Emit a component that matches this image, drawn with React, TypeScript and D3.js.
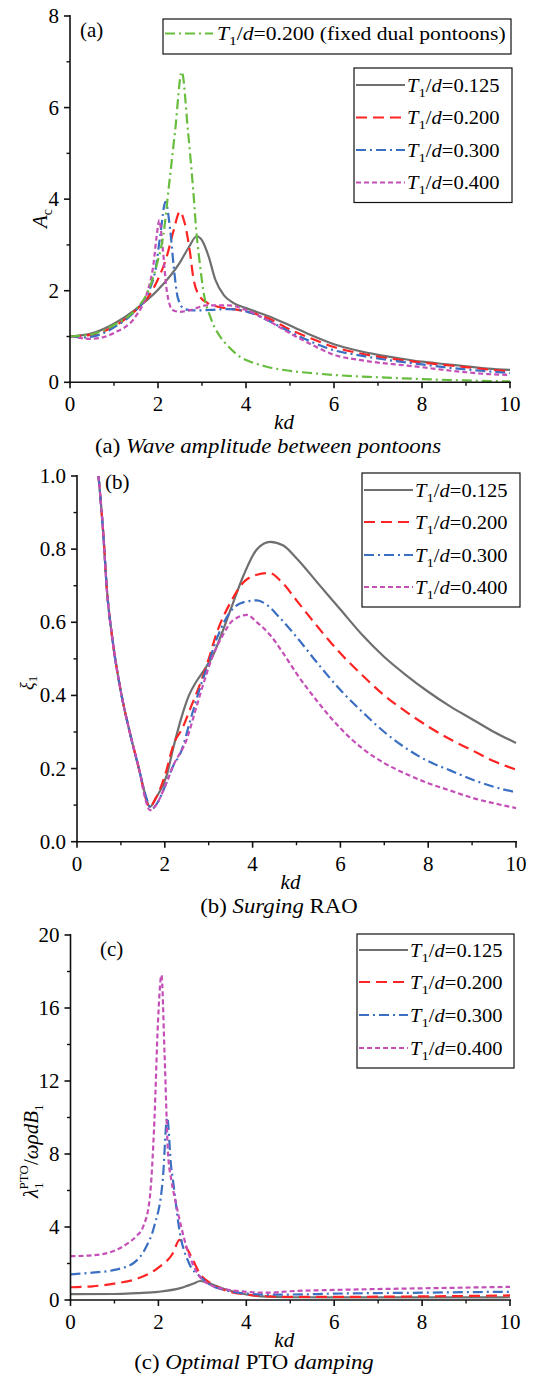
import React from "react";
import * as d3 from "d3";

type P = [number, number];

// ---------- Panel (a): wave amplitude A_c vs kd ----------
const aT125: P[] = [[0,1.0],[0.5,1.07],[1,1.28],[1.5,1.6],[2,2.02],[2.5,2.62],[2.7,2.95],[2.88,3.19],[3.0,3.1],[3.15,2.75],[3.3,2.25],[3.5,1.9],[3.7,1.74],[4.0,1.62],[4.5,1.45],[5,1.24],[5.5,1.02],[6,0.83],[6.5,0.7],[7,0.6],[7.5,0.52],[8,0.45],[8.5,0.4],[9,0.35],[9.5,0.3],[10,0.27]];
const aT200: P[] = [[0,1.0],[0.5,1.04],[1,1.22],[1.5,1.58],[1.8,1.9],[2.0,2.25],[2.2,2.75],[2.35,3.3],[2.5,3.73],[2.6,3.5],[2.73,2.82],[2.8,2.3],[2.95,1.87],[3.13,1.73],[3.4,1.64],[3.7,1.6],[4.0,1.55],[4.5,1.4],[5,1.15],[5.5,0.95],[6,0.77],[6.5,0.65],[7,0.56],[7.5,0.49],[8,0.43],[8.5,0.38],[9,0.33],[9.5,0.28],[10,0.24]];
const aT300: P[] = [[0,1.0],[0.3,0.98],[0.7,1.05],[1,1.2],[1.5,1.58],[1.8,2.0],[1.95,2.5],[2.05,3.2],[2.17,3.94],[2.28,3.3],[2.36,2.5],[2.45,1.85],[2.6,1.6],[2.8,1.57],[3.2,1.58],[3.6,1.6],[4.0,1.55],[4.5,1.35],[5,1.1],[5.5,0.88],[6,0.7],[6.5,0.6],[7,0.52],[7.5,0.45],[8,0.39],[8.5,0.33],[9,0.28],[9.5,0.24],[10,0.2]];
const aT400: P[] = [[0,1.0],[0.5,0.95],[1,1.08],[1.5,1.45],[1.75,1.95],[1.9,2.6],[1.97,3.2],[2.03,3.54],[2.1,3.0],[2.2,2.0],[2.33,1.58],[2.5,1.54],[2.75,1.58],[3.1,1.68],[3.6,1.68],[4.0,1.58],[4.5,1.35],[5,1.07],[5.5,0.82],[6,0.6],[6.5,0.5],[7,0.43],[7.5,0.38],[8,0.33],[8.5,0.27],[9,0.22],[9.5,0.18],[10,0.16]];
const aFixed: P[] = [[0,1.0],[0.5,1.05],[1,1.25],[1.5,1.6],[1.78,2.0],[2.0,2.67],[2.12,3.2],[2.25,4.3],[2.39,5.5],[2.54,6.78],[2.68,5.5],[2.8,4.2],[2.88,3.2],[2.95,2.6],[3.03,2.0],[3.2,1.4],[3.41,1.0],[3.6,0.78],[3.86,0.56],[4.1,0.45],[4.47,0.34],[5,0.25],[5.5,0.2],[6,0.16],[7,0.11],[8,0.07],[9,0.04],[10,0.02]];

// ---------- Panel (b): surging RAO xi_1 vs kd ----------
const bT125: P[] = [[0.49,1.0],[0.6,0.84],[0.68,0.69],[0.8,0.56],[1.0,0.41],[1.2,0.3],[1.43,0.19],[1.55,0.13],[1.66,0.095],[1.8,0.12],[2.04,0.18],[2.2,0.26],[2.38,0.34],[2.55,0.4],[2.73,0.44],[2.9,0.47],[3.1,0.51],[3.3,0.57],[3.5,0.635],[3.8,0.73],[4.1,0.8],[4.4,0.82],[4.7,0.81],[5.0,0.775],[5.5,0.705],[6.0,0.635],[6.5,0.565],[7.0,0.505],[7.5,0.455],[8.0,0.41],[8.5,0.37],[9.0,0.335],[9.5,0.3],[10,0.27]];
const bT200: P[] = [[0.49,1.0],[0.6,0.84],[0.68,0.69],[0.8,0.56],[1.0,0.41],[1.2,0.3],[1.43,0.19],[1.55,0.125],[1.65,0.095],[1.8,0.12],[2.0,0.18],[2.21,0.27],[2.4,0.31],[2.6,0.37],[2.8,0.43],[3.0,0.5],[3.18,0.57],[3.5,0.655],[3.8,0.71],[4.1,0.73],[4.38,0.735],[4.7,0.705],[5.0,0.66],[5.5,0.585],[6.0,0.515],[6.5,0.455],[7.0,0.4],[7.5,0.355],[8.0,0.315],[8.5,0.28],[9.0,0.25],[9.5,0.22],[10,0.197]];
const bT300: P[] = [[0.49,1.0],[0.6,0.84],[0.68,0.69],[0.8,0.56],[1.0,0.41],[1.2,0.3],[1.43,0.19],[1.58,0.12],[1.7,0.09],[1.85,0.11],[2.0,0.15],[2.2,0.21],[2.35,0.24],[2.6,0.34],[2.8,0.42],[3.0,0.49],[3.2,0.56],[3.5,0.63],[3.8,0.655],[4.1,0.66],[4.3,0.65],[4.6,0.615],[5.0,0.56],[5.5,0.485],[6.0,0.415],[6.5,0.355],[7.0,0.3],[7.5,0.255],[8.0,0.22],[8.5,0.195],[9.0,0.17],[9.5,0.15],[10,0.135]];
const bT400: P[] = [[0.49,1.0],[0.6,0.84],[0.68,0.69],[0.8,0.56],[1.0,0.41],[1.2,0.3],[1.43,0.19],[1.55,0.12],[1.66,0.086],[1.8,0.1],[2.0,0.15],[2.2,0.21],[2.5,0.28],[2.7,0.36],[2.9,0.44],[3.1,0.51],[3.3,0.56],[3.55,0.605],[3.87,0.62],[4.1,0.6],[4.4,0.565],[4.7,0.515],[5.0,0.46],[5.5,0.38],[6.0,0.31],[6.5,0.255],[7.0,0.215],[7.5,0.185],[8.0,0.16],[8.5,0.14],[9.0,0.12],[9.5,0.105],[10,0.092]];

// ---------- Panel (c): optimal PTO damping vs kd ----------
const cT125: P[] = [[0,0.32],[1,0.33],[1.5,0.38],[2,0.45],[2.5,0.65],[2.8,0.9],[2.95,1.04],[3.1,0.95],[3.5,0.6],[4,0.3],[4.5,0.18],[5,0.15],[6,0.14],[8,0.14],[10,0.15]];
const cT200: P[] = [[0,0.7],[0.5,0.75],[1.0,0.9],[1.5,1.15],[2.03,1.83],[2.33,2.56],[2.48,3.29],[2.6,3.0],[2.75,2.37],[2.94,1.46],[3.2,0.9],[3.5,0.55],[4,0.3],[4.5,0.2],[5,0.17],[6,0.17],[7,0.18],[8,0.2],[9,0.22],[10,0.25]];
const cT300: P[] = [[0,1.4],[0.5,1.5],[1.0,1.65],[1.42,2.0],[1.72,2.9],[1.9,4.0],[2.1,6.6],[2.2,10.0],[2.29,7.3],[2.33,6.6],[2.48,3.8],[2.7,2.0],[2.94,1.3],[3.2,0.8],[3.5,0.55],[4.0,0.35],[4.5,0.3],[5.0,0.3],[6.0,0.35],[7,0.38],[8,0.4],[9,0.43],[10,0.45]];
const cT400: P[] = [[0,2.4],[0.5,2.45],[1.0,2.7],[1.3,3.1],[1.5,3.5],[1.65,4.0],[1.8,5.5],[1.91,9.9],[1.99,15.2],[2.07,17.8],[2.14,13.5],[2.22,8.0],[2.3,6.5],[2.4,5.3],[2.64,2.9],[2.94,1.28],[3.2,0.8],[3.5,0.6],[4.0,0.45],[4.5,0.4],[5,0.48],[6,0.55],[7,0.6],[8,0.64],[9,0.68],[10,0.72]];

const xTicks = [0, 2, 4, 6, 8, 10];
const xMinor = [1, 3, 5, 7, 9];
const aYTicks = [0, 2, 4, 6, 8];
const aYMinor = [1, 3, 5, 7];
const bYTicks = [0, 0.2, 0.4, 0.6, 0.8, 1.0];
const bYMinor = [0.1, 0.3, 0.5, 0.7, 0.9];
const cYTicks = [0, 4, 8, 12, 16, 20];
const cYMinor = [2, 6, 10, 14, 18];
const ratioLabels = ["0.125", "0.200", "0.300", "0.400"];

const FONT = "'Liberation Serif', 'Times New Roman', serif";

type Sty = { color: string; dash: string };
const styles: Sty[] = [
  { color: "#6f6f6f", dash: "" },
  { color: "#ff2424", dash: "11,6" },
  { color: "#3b6fc2", dash: "10,4,2,4" },
  { color: "#c44fb6", dash: "5,3" },
];
const fixedStyle: Sty = { color: "#67bd3d", dash: "10,4,2,4" };

function Ratio({ value, extra }: { value: string; extra?: string }) {
  return (
    <>
      <tspan fontStyle="italic">T</tspan>
      <tspan fontSize="13" dy="5">1</tspan>
      <tspan dy="-5">/</tspan>
      <tspan fontStyle="italic">d</tspan>
      <tspan>={value}{extra ?? ""}</tspan>
    </>
  );
}

const LEG_SX = 1.14;
const FIX_SX = 1.2;
const CAP_SX = 1.14;

type PanelProps = {
  x0: number; x1: number; yTop: number; yBot: number;
  yMax: number; yTicks: number[]; yMinor: number[]; fmt: (v: number) => string;
  series: { data: P[]; sty: Sty }[];
  legend: { x0: number; x1: number; y0: number; rows: number[] };
  tag: string; tagX: number; tagY: number;
  caption: React.ReactNode; capX: number; capY: number;
};

function Panel(p: PanelProps) {
  const x = d3.scaleLinear().domain([0, 10]).range([p.x0, p.x1]);
  const y = d3.scaleLinear().domain([0, p.yMax]).range([p.yBot, p.yTop]);
  const line = d3.line<P>().x((d) => x(d[0])).y((d) => y(d[1])).curve(d3.curveMonotoneX);
  const lx = p.legend;
  const ly1 = lx.rows[lx.rows.length - 1] + 20;
  return (
    <g>
      {p.series.map((s, i) => (
        <path key={i} d={line(s.data) ?? ""} fill="none" stroke={s.sty.color} strokeWidth={2.2}
          strokeDasharray={s.sty.dash || undefined} />
      ))}
      {/* axes */}
      <line x1={p.x0} x2={p.x0} y1={p.yTop - 1} y2={p.yBot + 1} stroke="#111" strokeWidth={1.6} />
      <line x1={p.x0 - 1} x2={p.x1 + 1} y1={p.yBot} y2={p.yBot} stroke="#111" strokeWidth={1.6} />
      {xTicks.map((t) => (
        <g key={"xt" + t}>
          <line x1={x(t)} x2={x(t)} y1={p.yBot} y2={p.yBot + 6} stroke="#111" strokeWidth={1.6} />
          <text x={x(t)} y={p.yBot + 29} textAnchor="middle" fontSize="21" fontFamily={FONT}>{t}</text>
        </g>
      ))}
      {xMinor.map((t) => (
        <line key={"xm" + t} x1={x(t)} x2={x(t)} y1={p.yBot} y2={p.yBot + 3.5} stroke="#111" strokeWidth={1.4} />
      ))}
      {p.yTicks.map((t) => (
        <g key={"yt" + t}>
          <line x1={p.x0 - 6} x2={p.x0} y1={y(t)} y2={y(t)} stroke="#111" strokeWidth={1.6} />
          <text x={p.x0 - 11} y={y(t) + 7} textAnchor="end" fontSize="21" fontFamily={FONT}>{p.fmt(t)}</text>
        </g>
      ))}
      {p.yMinor.map((t) => (
        <line key={"ym" + t} x1={p.x0 - 3.5} x2={p.x0} y1={y(t)} y2={y(t)} stroke="#111" strokeWidth={1.4} />
      ))}
      <text x={(p.x0 + p.x1) / 2 - 6} y={p.yBot + 47} textAnchor="middle" fontSize="21" fontStyle="italic" fontFamily={FONT}>kd</text>
      <text transform={`translate(${p.capX},${p.capY}) scale(${CAP_SX},1)`} textAnchor="middle" fontSize="20" fontFamily={FONT}>{p.caption}</text>
      <text x={p.tagX} y={p.tagY} fontSize="21" fontFamily={FONT}>{p.tag}</text>
      {/* legend */}
      <rect x={lx.x0} y={lx.y0} width={lx.x1 - lx.x0} height={ly1 - lx.y0} fill="white" stroke="#111" strokeWidth={1.2} />
      {lx.rows.map((ry, i) => (
        <g key={"lg" + i}>
          <line x1={lx.x0 + 2} x2={lx.x0 + 51} y1={ry} y2={ry} stroke={styles[i].color} strokeWidth={2.2}
            strokeDasharray={styles[i].dash || undefined} />
          <text transform={`translate(${lx.x0 + 53},${ry + 6.5}) scale(${LEG_SX},1)`} fontSize="18" fontFamily={FONT}><Ratio value={ratioLabels[i]} /></text>
        </g>
      ))}
    </g>
  );
}

export default function App() {
  const fmt0 = (v: number) => String(v);
  const fmt1 = (v: number) => v.toFixed(1);
  const aSeries = [aT125, aT200, aT300, aT400].map((d, i) => ({ data: d, sty: styles[i] }));
  aSeries.push({ data: aFixed, sty: fixedStyle });
  const bSeries = [bT125, bT200, bT300, bT400].map((d, i) => ({ data: d, sty: styles[i] }));
  const cSeries = [cT125, cT200, cT300, cT400].map((d, i) => ({ data: d, sty: styles[i] }));
  return (
    <svg width={552} height={1376} style={{ position: "absolute", left: 0, top: 0, background: "white" }}>
      <rect width={552} height={1376} fill="white" />
      <Panel x0={70} x1={510} yTop={16} yBot={382.3} yMax={8} yTicks={aYTicks} yMinor={aYMinor} fmt={fmt0}
        series={aSeries} legend={{ x0: 354, x1: 512, y0: 68, rows: [85, 117.5, 150, 182.5] }}
        tag="(a)" tagX={80} tagY={37}
        caption={<><tspan>(a) </tspan><tspan fontStyle="italic">Wave amplitude between pontoons</tspan></>}
        capX={268} capY={453} />
      {/* fixed pontoon legend */}
      <rect x={163} y={19} width={348} height={35} fill="white" stroke="#111" strokeWidth={1.2} />
      <line x1={165} x2={213} y1={33.5} y2={33.5} stroke={fixedStyle.color} strokeWidth={2.2} strokeDasharray={fixedStyle.dash} />
      <text transform={`translate(217,40) scale(${FIX_SX},1)`} fontSize="18" fontFamily={FONT}><Ratio value="0.200" extra=" (fixed dual pontoons)" /></text>
      {/* A_c label */}
      <text transform="translate(47,228) rotate(-90)" fontSize="21" fontFamily={FONT}>
        <tspan fontStyle="italic">A</tspan><tspan fontSize="14" dy="5">c</tspan>
      </text>

      <Panel x0={77} x1={516} yTop={476} yBot={841.7} yMax={1} yTicks={bYTicks} yMinor={bYMinor} fmt={fmt1}
        series={bSeries} legend={{ x0: 362, x1: 520, y0: 473, rows: [490, 522, 555, 587] }}
        tag="(b)" tagX={105} tagY={489}
        caption={<><tspan>(b) </tspan><tspan fontStyle="italic">Surging</tspan><tspan> RAO</tspan></>}
        capX={279} capY={913} />
      <text transform="translate(33,690) rotate(-90)" fontSize="18" fontFamily={FONT}>
        <tspan fontStyle="italic">ξ</tspan><tspan fontSize="13" dy="4">1</tspan>
      </text>

      <Panel x0={70.5} x1={510} yTop={935} yBot={1300} yMax={20} yTicks={cYTicks} yMinor={cYMinor} fmt={fmt0}
        series={cSeries} legend={{ x0: 357, x1: 514, y0: 934, rows: [950, 982, 1015, 1048] }}
        tag="(c)" tagX={100} tagY={956}
        caption={<><tspan>(c) </tspan><tspan fontStyle="italic">Optimal</tspan><tspan> PTO </tspan><tspan fontStyle="italic">damping</tspan></>}
        capX={254} capY={1369} />
      <text transform="translate(38,1198) rotate(-90)" fontSize="21" fontFamily={FONT}>
        <tspan fontStyle="italic">λ</tspan><tspan fontSize="13" dy="5">1</tspan>
        <tspan fontSize="13" dx="-7" dy="-15">PTO</tspan>
        <tspan dy="10">/</tspan>
        <tspan fontStyle="italic">ωρdB</tspan><tspan fontSize="13" dy="5">1</tspan>
      </text>
    </svg>
  );
}
